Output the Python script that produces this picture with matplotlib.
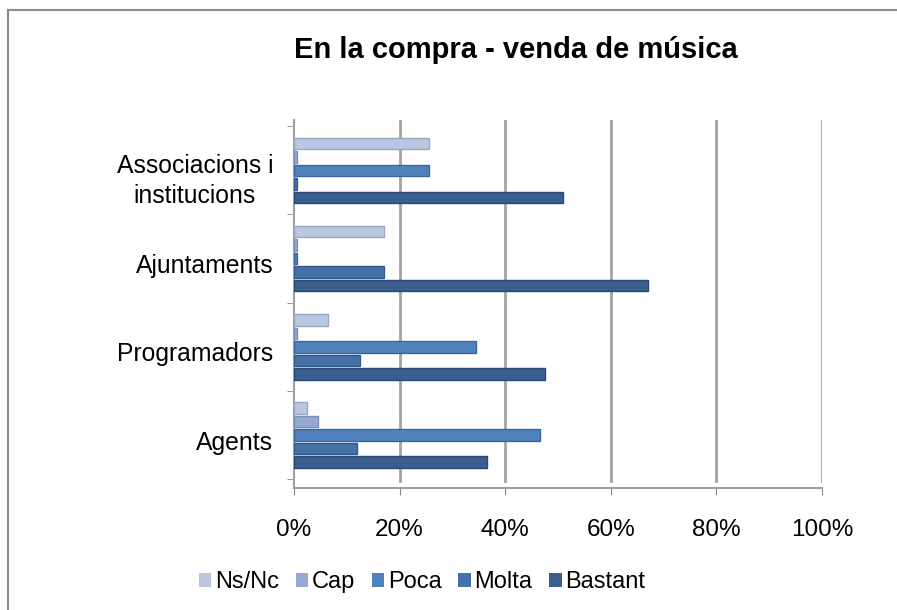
import matplotlib
matplotlib.use("Agg")
import matplotlib.pyplot as plt
import matplotlib.transforms as mtransforms
from matplotlib.lines import Line2D
from matplotlib.patches import Patch
import numpy as np

plt.rcParams['font.family'] = ['Liberation Sans', 'DejaVu Sans']

categories = ["Agents", "Programadors", "Ajuntaments", "Associacions i\ninstitucions"]
series = ["Ns/Nc", "Cap", "Poca", "Molta", "Bastant"]
ns_nc = [2.5, 6.5, 17.0, 25.5]
cap = [4.5, 0.5, 0.5, 0.5]
poca = [46.5, 34.5, 0.5, 25.5]
molta = [12.0, 12.5, 17.0, 0.5]
bastant = [36.5, 47.5, 67.0, 51.0]
values = [ns_nc, cap, poca, molta, bastant]
xticks = [0, 20, 40, 60, 80, 100]
xtick_labels = ["0%", "20%", "40%", "60%", "80%", "100%"]

colors = ["#BAC7E1", "#94AAD5", "#4F81BD", "#4571A9", "#3A5F8F"]
edges = ["#9AA8C4", "#7A8FBA", "#3B6699", "#34598A", "#2A4872"]

fig = plt.figure(figsize=(8.97, 6.10), dpi=100)
W, H = 897, 610
ax = fig.add_axes([294 / W, (H - 488) / H, 528 / W, 368 / H])

y = np.arange(len(categories))
step = 0.153
offsets = [2 * step, step, 0, -step, -2 * step]
for vals, off, c, e, name in zip(values, offsets, colors, edges, series):
    ax.barh(y + off, vals, height=0.13, color=c, edgecolor=e, linewidth=1.0,
            label=name, zorder=3)

ax.set_xlim(0, 100)
ax.set_ylim(-0.6, 3.57)

for gx in xticks[1:]:
    ax.axvline(gx, ymin=0.02, ymax=1.0, color="#A3A3A3", lw=2.0, zorder=1)

for s in ["top", "right"]:
    ax.spines[s].set_visible(False)
ax.spines["left"].set_color("#A0A0A0")
ax.spines["bottom"].set_color("#A0A0A0")
ax.spines["left"].set_linewidth(1.5)
ax.spines["bottom"].set_linewidth(1.5)

ax.set_xticks(xticks)
ax.set_xticklabels(xtick_labels, fontsize=17.5)
ax.tick_params(axis="x", length=5, color="#888888", pad=17)
ax.set_yticks(y)
ax.set_yticklabels(categories, fontsize=17.8, multialignment="center", linespacing=1.35)
ax.tick_params(axis="y", which="major", length=0, pad=15)
ax.set_yticks([-0.5, 0.5, 1.5, 2.5, 3.5], minor=True)
ax.tick_params(axis="y", which="minor", length=5, color="#888888")

shift = mtransforms.ScaledTranslation(0, -5 / 100, fig.dpi_scale_trans)
for lbl in ax.get_yticklabels():
    lbl.set_transform(lbl.get_transform() + shift)

fig.text(516 / W, 1 - 50 / H, "En la compra - venda de música", ha="center",
         va="center", fontsize=21, fontweight="bold")

handles = [Patch(facecolor=c, edgecolor="none") for c in colors]
fig.legend(handles, series, loc="center", bbox_to_anchor=(422 / W, 28 / H),
           ncol=5, frameon=False, fontsize=17, handlelength=0.52,
           handleheight=0.52, handletextpad=0.15, columnspacing=0.72)

fig.add_artist(Line2D([8 / W, 8 / W], [0, 1 - 10 / H], color="#8A8A8A", lw=1.5,
                      transform=fig.transFigure))
fig.add_artist(Line2D([8 / W, 1], [1 - 10 / H, 1 - 10 / H], color="#8A8A8A", lw=1.5,
                      transform=fig.transFigure))

fig.savefig("out.png", dpi=100)
